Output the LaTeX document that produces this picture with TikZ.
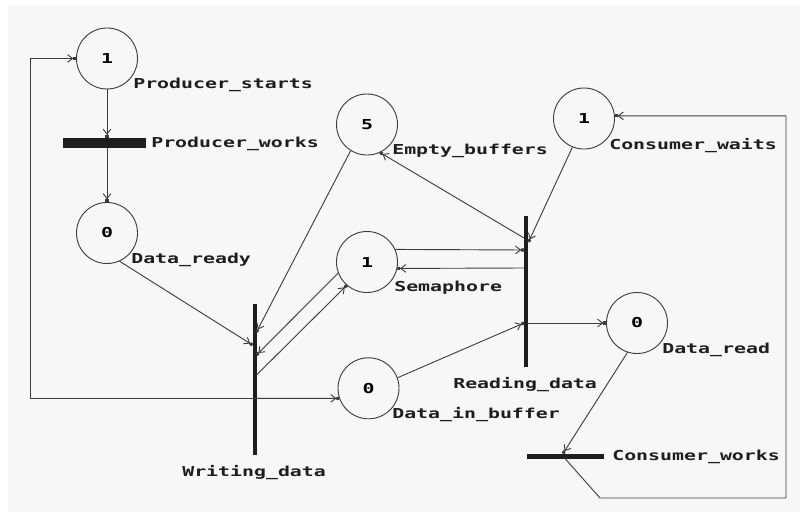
\documentclass[tikz,border=0pt]{standalone}
\usepackage{fontspec}
\newfontfamily\petrifont{DejaVu Sans Mono}[FakeStretch=1.45]
\usetikzlibrary{arrows.meta}
\definecolor{bggray}{RGB}{247,247,247}
\definecolor{linecol}{RGB}{60,60,60}
\definecolor{barcol}{RGB}{30,30,30}
\begin{document}
\begin{tikzpicture}[
        x=0.025cm, y=-0.025cm,
        place/.style={circle, draw=linecol, line width=0.65pt, minimum size=1.525cm, inner sep=0pt, font=\petrifont\bfseries\fontsize{9.75}{11}\selectfont},
        hbar/.style={rectangle, fill=barcol, inner sep=0pt},
        lbl/.style={anchor=base west, inner sep=0pt, text=barcol, font=\petrifont\bfseries\fontsize{9.75}{11}\selectfont},
        arc/.style={draw=linecol, line width=0.65pt, -{Straight Barb[length=3.5pt,width=5.5pt]Square[length=2pt,width=2.2pt]}},
        wire/.style={draw=linecol, line width=0.65pt}
    ]
        \useasboundingbox (0,0) rectangle (800,512);
        \fill[white] (0,0) rectangle (800,512);
        \fill[bggray] (8,5) rectangle (800,512);

        % Places
        \node (ps) [place] at (107,58.5) {1};
        \node (dr) [place] at (107,233) {0};
        \node (eb) [place] at (367,124.5) {5};
        \node (cw) [place] at (584,118.5) {1};
        \node (sem) [place] at (367,262) {1};
        \node (dib) [place] at (368.5,388.3) {0};
        \node (drd) [place] at (637,323) {0};

        % Transitions
        \node (pw) [hbar, minimum width=2.05cm, minimum height=0.24cm] at (104.5,142.7) {};
        \node (wd) [hbar, minimum width=0.1cm, minimum height=3.775cm] at (254.5,379.5) {};
        \node (rd) [hbar, minimum width=0.11cm, minimum height=3.775cm] at (526,291.5) {};
        \node (cwk) [hbar, minimum width=1.925cm, minimum height=0.125cm] at (565.5,456) {};

        % Labels
        \node (ps-l) [lbl] at (133,88) {Producer\_starts};
        \node (pw-l) [lbl] at (151,147) {Producer\_works};
        \node (dr-l) [lbl] at (131,263) {Data\_ready};
        \node (eb-l) [lbl] at (392,154) {Empty\_buffers};
        \node (cw-l) [lbl] at (609,149.5) {Consumer\_waits};
        \node (sem-l) [lbl] at (394,291.5) {Semaphore};
        \node (dib-l) [lbl] at (392,418) {Data\_in\_buffer};
        \node (rd-l) [lbl] at (453,388) {Reading\_data};
        \node (drd-l) [lbl] at (662,353) {Data\_read};
        \node (wd-l) [lbl] at (182,476) {Writing\_data};
        \node (cwk-l) [lbl] at (612,460) {Consumer\_works};

        % Ports on the bars
        \coordinate (wdA) at (256.5,332);
        \coordinate (wdB) at (252.5,345);
        \coordinate (wdC) at (256.5,355);
        \coordinate (wdD) at (256.5,375);
        \coordinate (wdE) at (254.5,398.3);
        \coordinate (rdA) at (524,238);
        \coordinate (rdB) at (528.5,242);
        \coordinate (rdC) at (524,250);
        \coordinate (rdD) at (524,268);
        \coordinate (rdE) at (524,323);
        \coordinate (rdF) at (528,323);
        \coordinate (cwkA) at (563,453.5);
        \coordinate (cwkB) at (565,458.5);
        \coordinate (lc) at (30,398.3);
        \coordinate (rb) at (600,498);
        \coordinate (rc) at (786,498);

        % Producer side
        \draw[arc] (ps.south) -- (ps.south |- pw.north);
        \draw[arc] (ps.south |- pw.south) -- (dr.north);
        \draw[arc] (dr.-66) -- (wdB);
        \draw[arc] (eb.-122) -- (wdA);
        \draw[arc] (sem.201) -- (wdC);
        \draw[arc] (wdD) -- (sem.229);
        \draw[arc] (wdE) -- (dib.199.5);
        \draw[arc] (wdE) -- (lc) |- (ps.west);

        % Consumer side
        \draw[arc] (dib.20) -- (rdE);
        \draw[arc] (rdF) -- (drd.west);
        \draw[arc] (sem.24) -- (rdC);
        \draw[arc] (rdD) -- (sem.-12);
        \draw[arc] (rdA) -- (eb.-65);
        \draw[arc] (cw.-112) -- (rdB);
        \draw[arc] (drd.-108) -- (cwkA);
        \draw[arc] (cwkB) -- (rb) -- (rc) |- (cw.5);
    \end{tikzpicture}
\end{document}
